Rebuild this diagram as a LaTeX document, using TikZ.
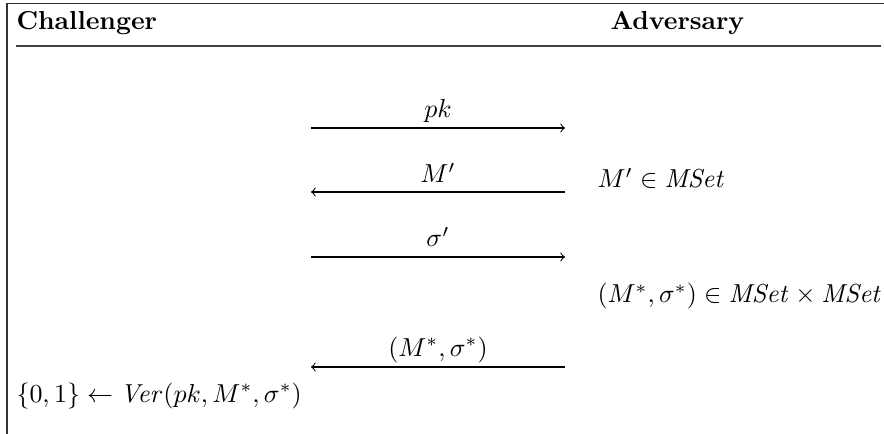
\documentclass[tikz,border=0pt]{standalone}
\usepackage{amsmath}
\begin{document}
\begin{tikzpicture}[x=0.385pt,y=-0.385pt,
  txt/.style={inner sep=0pt,anchor=base west},
  lbl/.style={inner sep=0pt,anchor=base},
  frame/.style={line width=0.7pt,draw=black!80},
  msg/.style={->,line width=0.4pt}]
\useasboundingbox (0,0) rectangle (884,434);
% frame
\draw[frame] (7,434) -- (7,3.5) -- (884,3.5);
\draw[line width=0.6pt,draw=black!75] (16,46) -- (881,46);
% headers
\node[txt] (ch) at (16,30) {\textbf{Challenger}};
\node[txt] (ad) at (610,30) {\textbf{Adversary}};
% message coordinates
\coordinate (l1) at (311,128); \coordinate (r1) at (565,128);
\coordinate (l2) at (311,192); \coordinate (r2) at (565,192);
\coordinate (l3) at (311,257); \coordinate (r3) at (565,257);
\coordinate (l4) at (311,367); \coordinate (r4) at (565,367);
\draw[msg] (l1) -- (r1);
\draw[msg] (r2) -- (l2);
\draw[msg] (l3) -- (r3);
\draw[msg] (r4) -- (l4);
\node[lbl] (m1) at (438,118) {$pk$};
\node[lbl] (m2) at (438,183) {$M'$};
\node[lbl] (m3) at (438,247) {$\sigma'$};
\node[lbl] (m4) at (438,356) {$(M^*,\sigma^*)$};
% adversary side
\node[txt] (a1) at (597,188) {$M'\in \mathit{MSet}$};
\node[txt] (a2) at (597,303) {$(M^*,\sigma^*)\in \mathit{MSet}\times \mathit{MSet}$};
% challenger side
\node[txt] (c1) at (16,402) {$\{0,1\}\leftarrow \mathit{Ver}(pk,M^*,\sigma^*)$};
\end{tikzpicture}
\end{document}
